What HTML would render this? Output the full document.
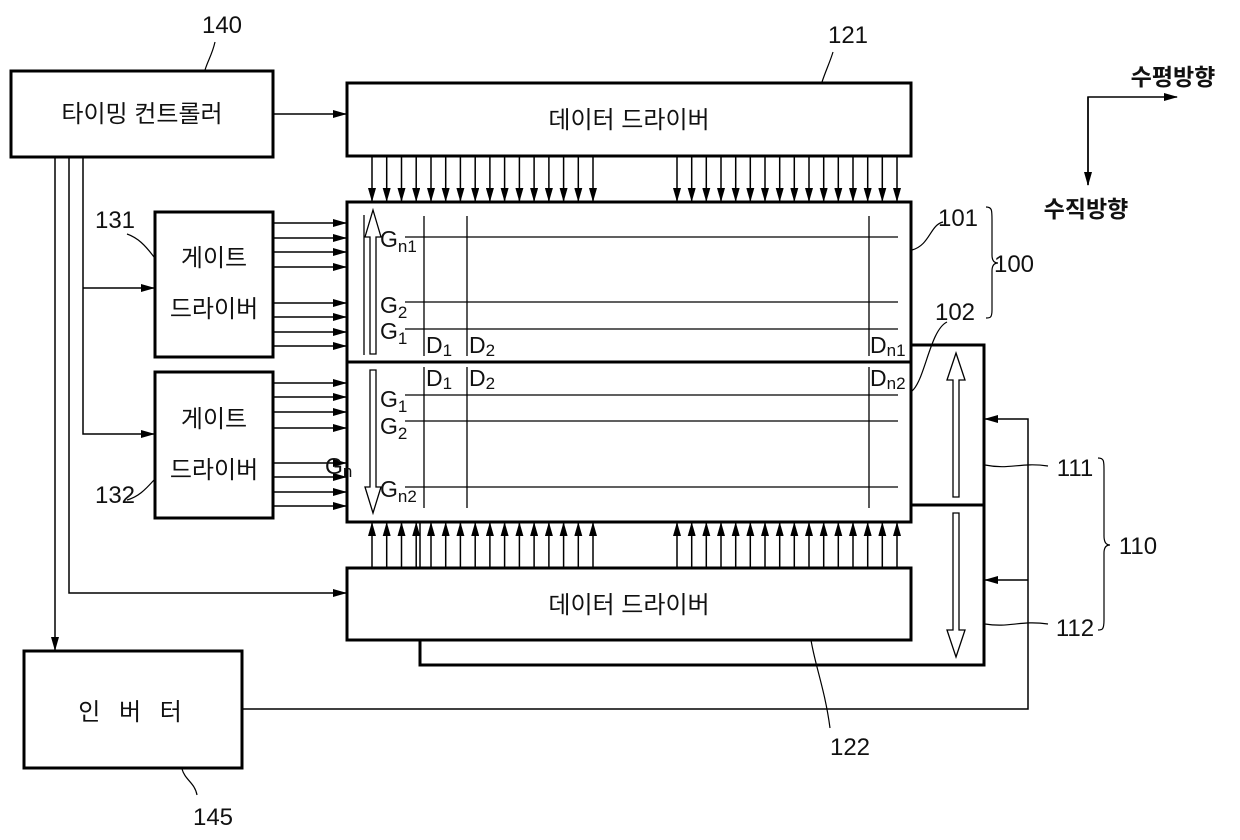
<!DOCTYPE html>
<html><head><meta charset="utf-8"><style>
html,body{margin:0;padding:0;background:#fff;}
svg{display:block;}
text{font-family:"Liberation Sans","Noto Sans CJK KR",sans-serif;fill:#111;}
.k{font-size:24px;}
.n{font-size:24px;}
</style></head><body>
<svg width="1240" height="840" viewBox="0 0 1240 840" xmlns="http://www.w3.org/2000/svg">
<defs>
<marker id="a" markerWidth="14" markerHeight="8" refX="13" refY="4" orient="auto" markerUnits="userSpaceOnUse">
<path d="M0,0 L14,4 L0,8 z" fill="#000"/></marker>
</defs>
<g stroke="#000" fill="none">
<rect x="11" y="71" width="262" height="86" stroke-width="3"/>
<rect x="347" y="83" width="564" height="73" stroke-width="3"/>
<rect x="347" y="568" width="564" height="72" stroke-width="3"/>
<rect x="347" y="202" width="564" height="320" stroke-width="3"/>
<line x1="347" y1="362" x2="911" y2="362" stroke-width="3"/>
<rect x="155" y="212" width="118" height="145" stroke-width="3"/>
<rect x="155" y="372" width="118" height="146" stroke-width="3"/>
<rect x="24" y="651" width="218" height="117" stroke-width="3"/>
<path d="M911,345 H984 V665 H420 V640" stroke-width="3"/>
<line x1="911" y1="505" x2="984" y2="505" stroke-width="3"/>
<line x1="420" y1="522" x2="420" y2="568" stroke-width="1.5"/>
<line x1="273" y1="114" x2="346" y2="114" stroke-width="1.5" marker-end="url(#a)"/>
<line x1="55" y1="157" x2="55" y2="650" stroke-width="1.5" marker-end="url(#a)"/>
<path d="M69,157 V593 H346" stroke-width="1.5" marker-end="url(#a)"/>
<path d="M83,157 V434 H154" stroke-width="1.5" marker-end="url(#a)"/>
<path d="M83,288 H154" stroke-width="1.5" marker-end="url(#a)"/>
<path d="M242,709 H1028 V419 H985" stroke-width="1.5" marker-end="url(#a)"/>
<path d="M1028,580 H985" stroke-width="1.5" marker-end="url(#a)"/>
<path d="M1088,185 V97 H1177" stroke-width="1.5" marker-end="url(#a)"/>
<line x1="1088" y1="97" x2="1088" y2="185" stroke-width="1.5" marker-end="url(#a)"/>
<g stroke-width="1.5">
<line x1="273" y1="223" x2="346" y2="223" marker-end="url(#a)"/>
<line x1="273" y1="238" x2="346" y2="238" marker-end="url(#a)"/>
<line x1="273" y1="252" x2="346" y2="252" marker-end="url(#a)"/>
<line x1="273" y1="267" x2="346" y2="267" marker-end="url(#a)"/>
<line x1="273" y1="303" x2="346" y2="303" marker-end="url(#a)"/>
<line x1="273" y1="317" x2="346" y2="317" marker-end="url(#a)"/>
<line x1="273" y1="332" x2="346" y2="332" marker-end="url(#a)"/>
<line x1="273" y1="346" x2="346" y2="346" marker-end="url(#a)"/>
<line x1="273" y1="383" x2="346" y2="383" marker-end="url(#a)"/>
<line x1="273" y1="397" x2="346" y2="397" marker-end="url(#a)"/>
<line x1="273" y1="412" x2="346" y2="412" marker-end="url(#a)"/>
<line x1="273" y1="428" x2="346" y2="428" marker-end="url(#a)"/>
<line x1="273" y1="463" x2="346" y2="463" marker-end="url(#a)"/>
<line x1="273" y1="477" x2="346" y2="477" marker-end="url(#a)"/>
<line x1="273" y1="492" x2="346" y2="492" marker-end="url(#a)"/>
<line x1="273" y1="506" x2="346" y2="506" marker-end="url(#a)"/>
</g>
<g stroke-width="1.5">
<line x1="372" y1="156" x2="372" y2="201" marker-end="url(#a)"/><line x1="386.7" y1="156" x2="386.7" y2="201" marker-end="url(#a)"/><line x1="401.5" y1="156" x2="401.5" y2="201" marker-end="url(#a)"/><line x1="416.2" y1="156" x2="416.2" y2="201" marker-end="url(#a)"/><line x1="431" y1="156" x2="431" y2="201" marker-end="url(#a)"/><line x1="445.7" y1="156" x2="445.7" y2="201" marker-end="url(#a)"/><line x1="460.4" y1="156" x2="460.4" y2="201" marker-end="url(#a)"/><line x1="475.2" y1="156" x2="475.2" y2="201" marker-end="url(#a)"/><line x1="489.9" y1="156" x2="489.9" y2="201" marker-end="url(#a)"/><line x1="504.6" y1="156" x2="504.6" y2="201" marker-end="url(#a)"/><line x1="519.4" y1="156" x2="519.4" y2="201" marker-end="url(#a)"/><line x1="534.1" y1="156" x2="534.1" y2="201" marker-end="url(#a)"/><line x1="548.9" y1="156" x2="548.9" y2="201" marker-end="url(#a)"/><line x1="563.6" y1="156" x2="563.6" y2="201" marker-end="url(#a)"/><line x1="578.3" y1="156" x2="578.3" y2="201" marker-end="url(#a)"/><line x1="593" y1="156" x2="593" y2="201" marker-end="url(#a)"/>
<line x1="677" y1="156" x2="677" y2="201" marker-end="url(#a)"/><line x1="691.7" y1="156" x2="691.7" y2="201" marker-end="url(#a)"/><line x1="706.3" y1="156" x2="706.3" y2="201" marker-end="url(#a)"/><line x1="721" y1="156" x2="721" y2="201" marker-end="url(#a)"/><line x1="735.7" y1="156" x2="735.7" y2="201" marker-end="url(#a)"/><line x1="750.3" y1="156" x2="750.3" y2="201" marker-end="url(#a)"/><line x1="765" y1="156" x2="765" y2="201" marker-end="url(#a)"/><line x1="779.7" y1="156" x2="779.7" y2="201" marker-end="url(#a)"/><line x1="794.3" y1="156" x2="794.3" y2="201" marker-end="url(#a)"/><line x1="809" y1="156" x2="809" y2="201" marker-end="url(#a)"/><line x1="823.7" y1="156" x2="823.7" y2="201" marker-end="url(#a)"/><line x1="838.3" y1="156" x2="838.3" y2="201" marker-end="url(#a)"/><line x1="853" y1="156" x2="853" y2="201" marker-end="url(#a)"/><line x1="867.7" y1="156" x2="867.7" y2="201" marker-end="url(#a)"/><line x1="882.3" y1="156" x2="882.3" y2="201" marker-end="url(#a)"/><line x1="897" y1="156" x2="897" y2="201" marker-end="url(#a)"/>
<line x1="372" y1="568" x2="372" y2="523" marker-end="url(#a)"/><line x1="386.7" y1="568" x2="386.7" y2="523" marker-end="url(#a)"/><line x1="401.5" y1="568" x2="401.5" y2="523" marker-end="url(#a)"/><line x1="416.2" y1="568" x2="416.2" y2="523" marker-end="url(#a)"/><line x1="431" y1="568" x2="431" y2="523" marker-end="url(#a)"/><line x1="445.7" y1="568" x2="445.7" y2="523" marker-end="url(#a)"/><line x1="460.4" y1="568" x2="460.4" y2="523" marker-end="url(#a)"/><line x1="475.2" y1="568" x2="475.2" y2="523" marker-end="url(#a)"/><line x1="489.9" y1="568" x2="489.9" y2="523" marker-end="url(#a)"/><line x1="504.6" y1="568" x2="504.6" y2="523" marker-end="url(#a)"/><line x1="519.4" y1="568" x2="519.4" y2="523" marker-end="url(#a)"/><line x1="534.1" y1="568" x2="534.1" y2="523" marker-end="url(#a)"/><line x1="548.9" y1="568" x2="548.9" y2="523" marker-end="url(#a)"/><line x1="563.6" y1="568" x2="563.6" y2="523" marker-end="url(#a)"/><line x1="578.3" y1="568" x2="578.3" y2="523" marker-end="url(#a)"/><line x1="593" y1="568" x2="593" y2="523" marker-end="url(#a)"/>
<line x1="677" y1="568" x2="677" y2="523" marker-end="url(#a)"/><line x1="691.7" y1="568" x2="691.7" y2="523" marker-end="url(#a)"/><line x1="706.3" y1="568" x2="706.3" y2="523" marker-end="url(#a)"/><line x1="721" y1="568" x2="721" y2="523" marker-end="url(#a)"/><line x1="735.7" y1="568" x2="735.7" y2="523" marker-end="url(#a)"/><line x1="750.3" y1="568" x2="750.3" y2="523" marker-end="url(#a)"/><line x1="765" y1="568" x2="765" y2="523" marker-end="url(#a)"/><line x1="779.7" y1="568" x2="779.7" y2="523" marker-end="url(#a)"/><line x1="794.3" y1="568" x2="794.3" y2="523" marker-end="url(#a)"/><line x1="809" y1="568" x2="809" y2="523" marker-end="url(#a)"/><line x1="823.7" y1="568" x2="823.7" y2="523" marker-end="url(#a)"/><line x1="838.3" y1="568" x2="838.3" y2="523" marker-end="url(#a)"/><line x1="853" y1="568" x2="853" y2="523" marker-end="url(#a)"/><line x1="867.7" y1="568" x2="867.7" y2="523" marker-end="url(#a)"/><line x1="882.3" y1="568" x2="882.3" y2="523" marker-end="url(#a)"/><line x1="897" y1="568" x2="897" y2="523" marker-end="url(#a)"/>
</g>
<g stroke-width="1.3">
<line x1="364" y1="215" x2="364" y2="355"/>
<line x1="424" y1="216" x2="424" y2="356"/>
<line x1="467" y1="216" x2="467" y2="356"/>
<line x1="869" y1="216" x2="869" y2="356"/>
<line x1="424" y1="367" x2="424" y2="508"/>
<line x1="467" y1="367" x2="467" y2="508"/>
<line x1="869" y1="367" x2="869" y2="508"/>
<line x1="405" y1="237" x2="898" y2="237"/>
<line x1="405" y1="302" x2="898" y2="302"/>
<line x1="405" y1="329" x2="898" y2="329"/>
<line x1="405" y1="395" x2="898" y2="395"/>
<line x1="405" y1="421" x2="898" y2="421"/>
<line x1="405" y1="487" x2="898" y2="487"/>
</g>
<path d="M373,210 L381,237 L376,237 L376,354 L370,354 L370,237 L365,237 Z" stroke-width="1.3" fill="#fff"/>
<path d="M373,513 L381,487 L376,487 L376,370 L370,370 L370,487 L365,487 Z" stroke-width="1.3" fill="#fff"/>
<path d="M956,353 L965,380 L959,380 L959,497 L953,497 L953,380 L947,380 Z" stroke-width="1.3" fill="#fff"/>
<path d="M956,657 L965,630 L959,630 L959,513 L953,513 L953,630 L947,630 Z" stroke-width="1.3" fill="#fff"/>
<g stroke-width="1.2">
<path d="M205,70 C208,60 212,55 215,42"/>
<path d="M822,82 C826,70 830,62 833,52"/>
<path d="M912,250 C930,245 930,225 943,222"/>
<path d="M912,391 C925,380 930,330 947,322"/>
<path d="M985,465 C1010,470 1020,462 1048,466"/>
<path d="M985,624 C1010,628 1020,620 1048,624"/>
<path d="M811,640 C815,665 825,690 830,728"/>
<path d="M154,257 C145,245 138,238 127,234"/>
<path d="M154,480 C145,490 138,497 127,500"/>
<path d="M182,769 C185,780 195,783 197,795"/>
<path d="M986,207 C992,207 992,210 992,220 V255 Q992,263 998,263 Q992,263 992,271 V310 C992,318 990,318 986,318"/>
<path d="M1098,458 C1104,458 1104,461 1104,470 V536 Q1104,545 1110,545 Q1104,545 1104,553 V620 C1104,630 1102,630 1098,630"/>
</g>
</g>
<text class="k" x="142" y="122" text-anchor="middle">타이밍 컨트롤러</text>
<text class="k" x="629" y="128" text-anchor="middle">데이터 드라이버</text>
<text class="k" x="629" y="613" text-anchor="middle">데이터 드라이버</text>
<text class="k" x="214" y="266" text-anchor="middle">게이트</text>
<text class="k" x="214" y="317" text-anchor="middle">드라이버</text>
<text class="k" x="214" y="427" text-anchor="middle">게이트</text>
<text class="k" x="214" y="478" text-anchor="middle">드라이버</text>
<text class="k" x="133" y="720" text-anchor="middle" style="letter-spacing:6px">인 버 터</text>
<text x="1173" y="85" text-anchor="middle" style="font-weight:bold;font-size:23px">수평방향</text>
<text x="1086" y="217" text-anchor="middle" style="font-weight:bold;font-size:23px">수직방향</text>
<g class="n">
<text x="222" y="33" text-anchor="middle">140</text>
<text x="848" y="43" text-anchor="middle">121</text>
<text x="958" y="226" text-anchor="middle">101</text>
<text x="1014" y="272" text-anchor="middle">100</text>
<text x="955" y="320" text-anchor="middle">102</text>
<text x="1075" y="476" text-anchor="middle">111</text>
<text x="1075" y="636" text-anchor="middle">112</text>
<text x="1138" y="554" text-anchor="middle">110</text>
<text x="850" y="755" text-anchor="middle">122</text>
<text x="115" y="228" text-anchor="middle">131</text>
<text x="115" y="503" text-anchor="middle">132</text>
<text x="213" y="825" text-anchor="middle">145</text>
</g>
<g style="font-size:23px">
<text x="380" y="247">G<tspan font-size="17" dy="5">n1</tspan></text>
<text x="380" y="313">G<tspan font-size="17" dy="5">2</tspan></text>
<text x="380" y="339">G<tspan font-size="17" dy="5">1</tspan></text>
<text x="426" y="353">D<tspan font-size="17" dy="3">1</tspan></text>
<text x="469" y="353">D<tspan font-size="17" dy="3">2</tspan></text>
<text x="870" y="353">D<tspan font-size="17" dy="3">n1</tspan></text>
<text x="426" y="386">D<tspan font-size="17" dy="3">1</tspan></text>
<text x="469" y="386">D<tspan font-size="17" dy="3">2</tspan></text>
<text x="870" y="386">D<tspan font-size="17" dy="3">n2</tspan></text>
<text x="380" y="407">G<tspan font-size="17" dy="5">1</tspan></text>
<text x="380" y="434">G<tspan font-size="17" dy="5">2</tspan></text>
<text x="380" y="497">G<tspan font-size="17" dy="5">n2</tspan></text>
<text x="325" y="474">G<tspan font-size="17" dy="3">n</tspan></text>
</g>
</svg>
</body></html>
